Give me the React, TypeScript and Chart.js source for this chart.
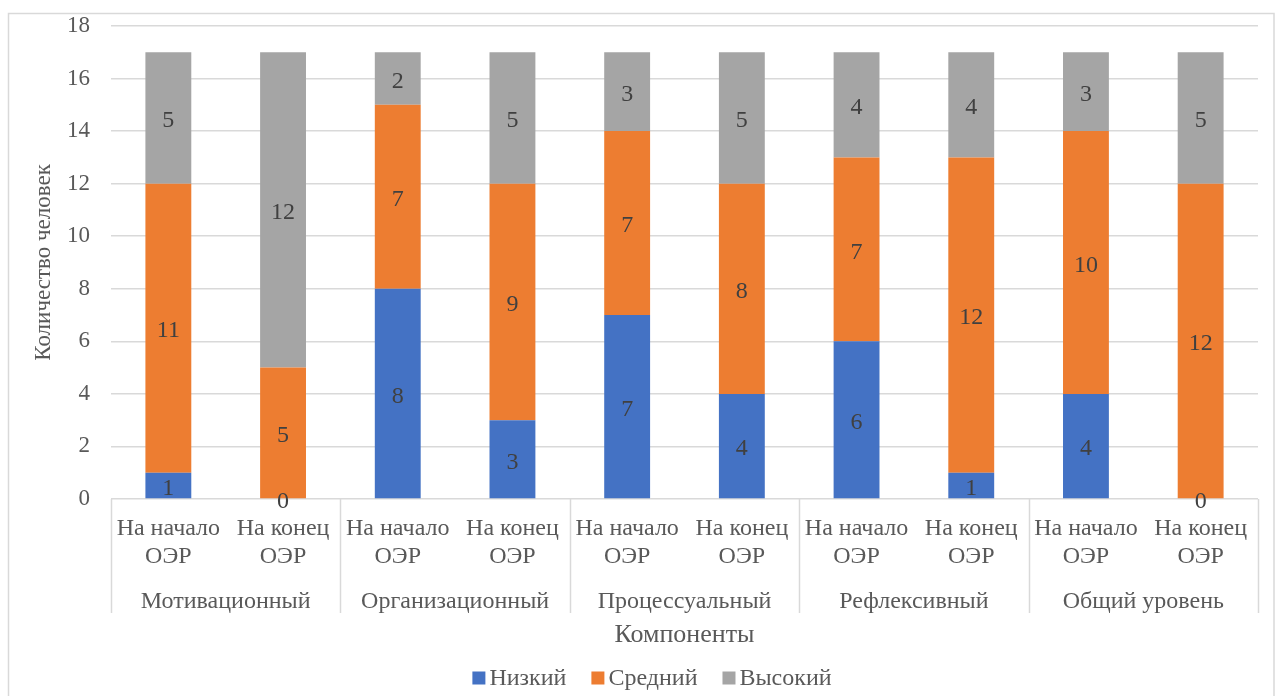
import React, { useEffect, useRef } from "react";
import { Chart, registerables } from "chart.js";

Chart.register(...registerables);

const groups = ["Мотивационный", "Организационный", "Процессуальный", "Рефлексивный", "Общий уровень"];
const subLabels = [["На начало", "ОЭР"], ["На конец", "ОЭР"]];
const seriesNames = ["Низкий", "Средний", "Высокий"];
const lowValues = [1, 0, 8, 3, 7, 4, 6, 1, 4, 0];
const midValues = [11, 5, 7, 9, 7, 8, 7, 12, 10, 12];
const highValues = [5, 12, 2, 5, 3, 5, 4, 4, 3, 5];
const seriesColors = ["#4472C4", "#ED7D31", "#A5A5A5"];
const yTitle = "Количество человек";
const xTitle = "Компоненты";

const FONT = "'Liberation Serif', 'Times New Roman', serif";
const TEXT = "#595959";
const LINE = "#d9d9d9";

const categories: string[][] = [];
groups.forEach((g) => subLabels.forEach((s) => categories.push([...s])));

const decorPlugin = {
  id: "decor",
  beforeDraw(chart: any) {
    const ctx = chart.ctx;
    ctx.save();
    ctx.fillStyle = "#ffffff";
    ctx.fillRect(0, 0, chart.width, chart.height);
    ctx.strokeStyle = LINE;
    ctx.lineWidth = 1.5;
    ctx.strokeRect(8.5, 13.5, chart.width - 9.5, chart.height + 20);
    ctx.restore();
  },
  afterDraw(chart: any) {
    const ctx = chart.ctx;
    const xs = chart.scales.x;
    const area = chart.chartArea;
    ctx.save();
    // category labels
    ctx.fillStyle = TEXT;
    ctx.font = `24px ${FONT}`;
    ctx.textAlign = "center";
    ctx.textBaseline = "middle";
    categories.forEach((lines, i) => {
      const x = xs.getPixelForValue(i);
      ctx.fillText(lines[0], x, area.bottom + 30);
      ctx.fillText(lines[1], x, area.bottom + 58);
    });
    // group separators and labels
    const n = categories.length;
    const cw = (area.right - area.left) / n;
    ctx.strokeStyle = LINE;
    ctx.lineWidth = 1.5;
    for (let g = 0; g <= groups.length; g++) {
      const x = Math.round(area.left + g * 2 * cw) + 0.5;
      ctx.beginPath();
      ctx.moveTo(x, area.bottom);
      ctx.lineTo(x, area.bottom + 114);
      ctx.stroke();
    }
    groups.forEach((g, k) => {
      const x = area.left + (k * 2 + 1) * cw;
      ctx.fillText(g, x, area.bottom + 103);
    });
    // data labels
    ctx.fillStyle = "#404040";
    ctx.font = `24px ${FONT}`;
    chart.data.datasets.forEach((ds: any, di: number) => {
      const meta = chart.getDatasetMeta(di);
      meta.data.forEach((bar: any, i: number) => {
        const v = ds.data[i];
        if (v === 0 && di !== 0) return;
        const y = (bar.y + bar.base) / 2;
        ctx.fillText(String(v), bar.x, y + 3);
      });
    });
    // legend
    ctx.font = `24px ${FONT}`;
    ctx.textAlign = "left";
    const box = 13;
    const gapText = 4;
    const gapItem = 25;
    const widths = seriesNames.map((s) => box + gapText + ctx.measureText(s).width);
    const total = widths.reduce((a, b) => a + b, 0) + gapItem * (widths.length - 1);
    let lx = 652 - total / 2;
    const ly = 678;
    seriesNames.forEach((s, i) => {
      ctx.fillStyle = seriesColors[i];
      ctx.fillRect(lx, ly - box / 2, box, box);
      ctx.fillStyle = TEXT;
      ctx.fillText(s, lx + box + gapText, ly + 1);
      lx += widths[i] + gapItem;
    });
    ctx.restore();
  },
};

export default function App() {
  const ref = useRef<HTMLCanvasElement | null>(null);
  useEffect(() => {
    if (!ref.current) return;
    const data = [lowValues, midValues, highValues];
    const chart = new Chart(ref.current, {
      type: "bar",
      data: {
        labels: categories.map((c) => c.join(" ")),
        datasets: seriesNames.map((name, i) => ({
          label: name,
          data: data[i],
          backgroundColor: seriesColors[i],
          borderWidth: 0,
          barPercentage: 0.4,
          categoryPercentage: 1,
        })),
      },
      options: {
        responsive: false,
        animation: false,
        devicePixelRatio: 1,
        layout: { padding: { top: 26, left: 20, right: 17, bottom: 41 } },
        plugins: { legend: { display: false }, tooltip: { enabled: false } },
        scales: {
          x: {
            stacked: true,
            grid: { display: false, drawTicks: false },
            border: { display: false },
            ticks: { display: false },
            title: {
              display: true,
              text: xTitle,
              color: TEXT,
              font: { family: FONT, size: 26 },
              padding: { top: 0, bottom: 4 },
            },
            afterFit: (s: any) => {
              s.height = 156;
            },
          },
          y: {
            stacked: true,
            min: 0,
            max: 18,
            ticks: {
              stepSize: 2,
              color: TEXT,
              font: { family: FONT, size: 23 },
              padding: 21,
            },
            grid: { color: LINE, lineWidth: 1.5, drawTicks: false },
            border: { display: false },
            title: {
              display: true,
              text: yTitle,
              color: TEXT,
              font: { family: FONT, size: 23 },
              padding: { top: 10, bottom: 0 },
            },
            afterFit: (s: any) => {
              s.width = 91;
              s.paddingTop = 0;
              s.paddingBottom = 0;
            },
          },
        },
      },
      plugins: [decorPlugin],
    });
    return () => chart.destroy();
  }, []);
  return (
    <div style={{ position: "absolute", left: 0, top: 0, width: 1275, height: 696 }}>
      <canvas ref={ref} width={1275} height={696} style={{ width: 1275, height: 696, display: "block" }} />
    </div>
  );
}
